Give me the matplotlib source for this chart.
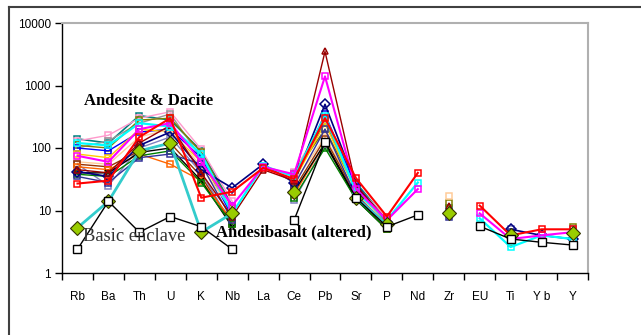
import matplotlib
matplotlib.use("Agg")
import matplotlib.pyplot as plt
from matplotlib.lines import Line2D
import numpy as np

n = np.nan

elements = ["Rb", "Ba", "Th", "U", "K", "Nb", "La", "Ce", "Pb",
            "Sr", "P", "Nd", "Zr", "EU", "Ti", "Y b", "Y"]

# andesite & dacite samples (normalised values)
teal_a   = [140, 120, 330, 280, 90, 12, n, 40, 250, 28, 7, n, 11, n, 3.5, n, 4]
pink_a   = [130, 160, 300, 380, 95, 14, n, 42, 300, 25, 7.5, n, n, n, n, n, n]
gray_a   = [100, 130, 250, 350, 70, 9, n, 35, 300, 20, 7, n, n, n, n, n, n]
olive_a  = [110, 100, 280, 300, 85, 11, n, 38, 200, 22, 6, n, 13, n, 3, n, 5.5]
cyan_a   = [120, 110, 250, 220, 80, 9, 52, 35, 330, 20, 7, 28, n, 7.5, 2.6, 4, 3.5]
blue_a   = [100, 90, 180, 200, 70, 8, n, 30, 350, 24, 6.5, n, n, n, n, n, n]
yellow_a = [80, 70, 200, 180, 60, 10, n, 30, 250, 20, 6, n, n, n, n, n, n]
mag_a    = [75, 60, 200, 250, 60, 12, 50, 38, 1400, 22, 7, 22, n, 9, 3.5, 4, 4.5]
peach_a  = [60, 55, 150, 200, 50, 10, n, 28, 150, 20, 6, n, 17, n, n, n, n]
lav_a    = [55, 25, 100, 150, 40, 6, n, 14.7, 110, 18, 5.5, n, n, n, 5, n, 5]
brown_a  = [55, 50, 90, 120, 35, 6, n, 22, 140, 18, 5.5, n, n, n, n, n, n]
orange_a = [50, 45, 80, 55, 30, 7, n, 18, 120, 16, 5, n, n, n, n, n, n]
maroon_a = [45, 40, 120, 230, 40, 8, 45, 30, 3500, 25, 7, n, 12, n, 4, n, 4.5]
navy_a   = [42, 35, 110, 180, 45, 23, 55, 28, 500, 26, 6.5, n, 9, n, 5, 4, 3.5]
black_a  = [40, 40, 85, 100, 30, 5.5, n, 20, 120, 15, 5, n, n, n, n, n, n]
green_a  = [38, 35, 75, 90, 28, 6, n, 16, 100, 15, 5, n, n, n, n, n, n]
indigo_a = [35, 28, 70, 80, 55, 7, n, 25, 200, 17, 6, n, 8, n, 4.5, n, 4]
red_a    = [27, 30, 150, 300, 16, 20, 48, 32, 300, 33, 8, 40, n, 12, 4, 5, 5]

# basic enclave and altered andesibasalt
enclave   = [2.4, 14, 4.5, 8, 5.5, 2.4, n, 7, 125, 16, 5.5, 8.5, n, 5.6, 3.5, 3.1, 2.8]
andesibas = [5.3, 14, 90, 120, 4.5, 9, n, 20, n, 16, 6, n, 9, n, 4, n, 4.3]

series = [
    (teal_a, "#008080", "s", 1.2),
    (pink_a, "#FF99CC", "s", 1.0),
    (gray_a, "#969696", "s", 1.0),
    (olive_a, "#808000", "s", 1.0),
    (blue_a, "#0000FF", "s", 1.0),
    (yellow_a, "#FFCC00", "s", 1.0),
    (peach_a, "#FFCC99", "s", 1.0),
    (lav_a, "#8080C0", "s", 1.0),
    (brown_a, "#993300", "s", 1.0),
    (orange_a, "#FF6600", "s", 1.0),
    (black_a, "#000000", "x", 1.0),
    (green_a, "#008000", "s", 1.0),
    (indigo_a, "#333399", "s", 1.0),
    (navy_a, "#000080", "D", 1.2),
    (maroon_a, "#990000", "^", 1.0),
    (cyan_a, "#00FFFF", "s", 1.6),
    (mag_a, "#FF00FF", "s", 1.5),
    (red_a, "#FF0000", "s", 1.5),
]

x = np.arange(len(elements))

fig = plt.figure(figsize=(6.41, 3.35), dpi=100)
ax = fig.add_axes([62 / 641, 62 / 335, 526 / 641, 250 / 335])

for vals, col, mk, lw in series:
    ax.plot(x, vals, color=col, lw=lw, marker=mk, ms=5, mfc="none",
            mec=col, mew=1.1, zorder=2)

# andesibasalt: turquoise line, yellow-green diamonds
ax.plot(x, andesibas, color="#33CCCC", lw=2.0, marker="D", ms=7,
        mfc="#99CC00", mec="#333300", mew=0.8, zorder=3)
# basic enclave
ax.plot(x, enclave, color="#000000", lw=1.0, marker="s", ms=6, mfc="white",
        mec="#000000", mew=1.0, zorder=4)

ax.set_yscale("log")
ax.set_ylim(1, 10000)
ax.set_xlim(-0.5, len(elements) - 0.5)

ax.set_yticks([1, 10, 100, 1000, 10000])
ax.set_yticklabels(["1", "10", "100", "1000", "10000"], family="Liberation Sans",
                   fontsize=8.5)
ax.minorticks_off()
ax.set_xticks(x)
ax.set_xticklabels(elements, family="Liberation Sans", fontsize=8.5)
ax.set_xticks(np.arange(len(elements) + 1) - 0.5, minor=True)
ax.tick_params(axis="x", which="major", length=0, pad=13)
ax.tick_params(axis="x", which="minor", length=5, width=1, direction="out")
ax.tick_params(axis="y", length=5, width=1, direction="out", pad=3)

for side in ("top", "right"):
    ax.spines[side].set_color("#B0B0B0")
    ax.spines[side].set_linewidth(1.5)
for side in ("left", "bottom"):
    ax.spines[side].set_color("black")
    ax.spines[side].set_linewidth(1.0)

ax.text(2.31, 565, "Andesite & Dacite", family="Liberation Serif",
        fontsize=12, fontweight="bold", ha="center", va="center", zorder=5)
ax.text(1.83, 3.9, "Basic enclave", family="Liberation Serif",
        fontsize=13.3, color="#333333", ha="center", va="center", zorder=5)
ax.text(7.0, 4.5, "Andesibasalt (altered)", family="Liberation Serif",
        fontsize=12, fontweight="bold", ha="center", va="center", zorder=5)

# outer chart frame (cropped on right and bottom)
fig.add_artist(Line2D([9 / 641, 1], [1 - 7 / 335] * 2, color="#404040", lw=1.5))
fig.add_artist(Line2D([9 / 641] * 2, [0, 1 - 7 / 335], color="#404040", lw=1.5))

fig.savefig("out.png", dpi=100)
